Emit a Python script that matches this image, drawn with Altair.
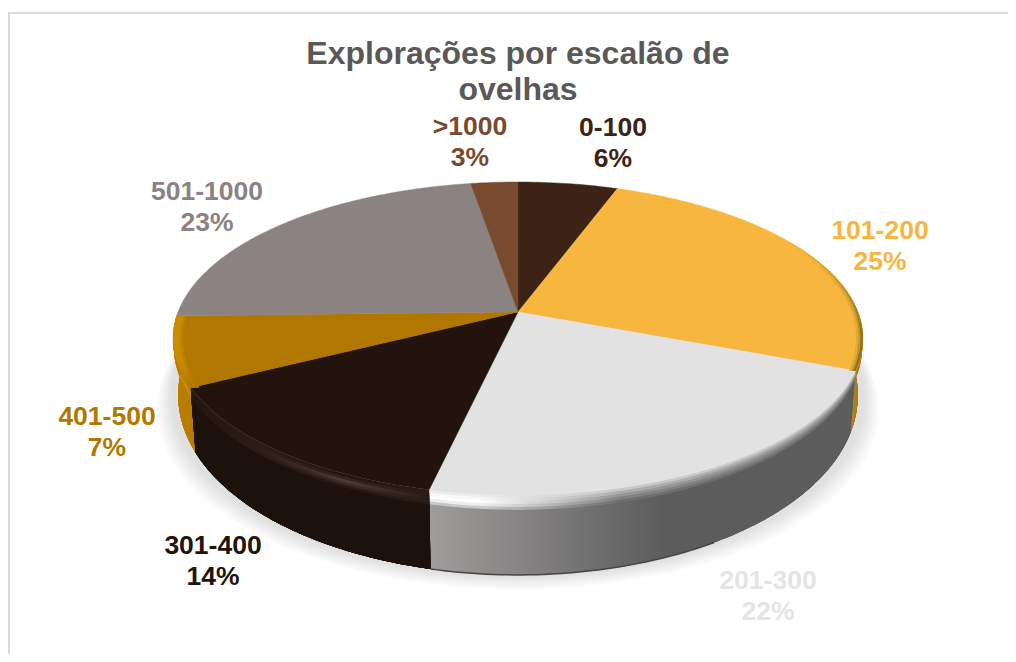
import math
import altair as alt
import pandas as pd

# ---- chart values ----
CATEGORIES = ["0-100", "101-200", "201-300", "301-400", "401-500", "501-1000", ">1000"]
SHARES = [5.5, 25.4, 22.6, 13.9, 7.2, 22.8, 2.6]
PCT_LABELS = ["6%", "25%", "22%", "14%", "7%", "23%", "3%"]
FACE_COLORS = ["#3D2315", "#F7B63D", "#E2E2E2", "#22130C", "#B27700", "#8B8382", "#784A30"]
TEXT_COLORS = ["#3D2315", "#F7B63D", "#E4E4E4", "#22130C", "#B27700", "#8B8382", "#784A30"]
LABEL_X = [613, 880, 768, 213, 107, 207, 470]
LABEL_Y = [128, 231, 581, 546, 417, 192, 127]
TITLE_LINES = ["Explorações por escalão de", "ovelhas"]

W, H = 1000, 646
OFF = 8  # page margin
CX, CY = 518 - OFF, 312 - OFF
KX, KY, PERSP = 340.0, 152.0, 0.169


def top(t, s=1.0):
    u, v = math.sin(t), math.cos(t)
    d = 1 + PERSP * v
    return CX + s * KX * u / d, CY - KY * v / d, v


def depth(v):
    return 52 - 28 * v


def bevel(v):
    return 7 + 8 * max(0.0, -v)


def down(t, amount_fn):
    x, y, v = top(t)
    full = depth(v)
    a = amount_fn(v)
    return CX + (x - CX) * (1 - 0.015 * a / full), y + a


def angles(a, b, step=1.0):
    n = max(2, int(abs(b - a) / step) + 1)
    return [math.radians(a + (b - a) * i / (n - 1)) for i in range(n)]


def feature(coords, kind="Polygon"):
    if kind == "Polygon":
        coords = [coords + [coords[0]]]
    return {"type": "Feature", "properties": {}, "geometry": {"type": kind, "coordinates": coords}}


PROJ = alt.Projection(type="identity", scale=1, translate=[0, 0])


def geo(f, **mark):
    return (
        alt.Chart(alt.Data(values=[f], format=alt.DataFormat(type="json")))
        .mark_geoshape(**mark)
        .project(**PROJ.to_dict())
    )


def grad(stops, vertical=False):
    return alt.Gradient(
        gradient="linear", x1=0, x2=0 if vertical else 1, y1=0, y2=1 if vertical else 0,
        stops=[alt.GradientStop(offset=o, color=c) for o, c in stops],
    )


# cumulative angles from the shares
edges = [0.0]
for s in SHARES:
    edges.append(edges[-1] + s * 3.6)

layers = []

# frame of the chart area
layers.append(geo(feature([[1, H + 4], [1, 5], [W + 4, 5]], "LineString"),
                  filled=False, stroke="#D9D9D9", strokeWidth=2))

# soft shadow under the pie
for k in range(8):
    e = 16 - 2 * k
    pts = []
    for t in angles(0, 360, 3):
        x, y, v = top(t)
        pts.append([CX + (x - CX) * (1 + e / 345), y + depth(v) + e * 0.9])
    layers.append(geo(feature(pts), fill="#808080", fillOpacity=0.035, stroke="transparent"))


def wall_stack(a, b, strips, wall_fill):
    fs = [0, 0.2, 0.4, 0.6, 0.8, 1.0]
    ts = angles(a, b)
    bottom = [down(t, depth) for t in ts][::-1]
    for f, fill in zip(fs, strips):
        upper = [down(t, lambda v: f * bevel(v)) for t in ts]
        layers.append(geo(feature([list(p) for p in upper + bottom]), fill=fill, stroke="transparent"))
    upper = [down(t, bevel) for t in ts]
    layers.append(geo(feature([list(p) for p in upper + bottom]), fill=wall_fill, stroke="transparent"))


# yellow slice, right rim
wall_stack(70, edges[2],
           ["#F0B038", "#D8A030", "#B88A28", "#9A7420", "#8A681C", "#8A681C"],
           grad([(0, "#C8921E"), (1, "#A87C1A")]))
# orange slice, left rim
wall_stack(edges[4], edges[5],
           ["#B87C04", "#C08200", "#CC8C00", "#CC8C00", "#C58500", "#BC8000"],
           "#B87C00")
# grey slice
L = ["#ECECEC", "#F8F8F8", "#FFFFFF", "#EFEFEF", "#C9C9C9", "#A2A2A2"]
R = ["#C8C8C8", "#ACACAC", "#949494", "#808080", "#6E6E6E", "#606060"]
wall_stack(edges[2], edges[3],
           [grad([(0, l), (0.12, l), (0.45, r), (1, r)]) for l, r in zip(L, R)],
           grad([(0, "#A09C9C"), (0.55, "#5C5C5C"), (1, "#5C5C5C")]))
# dark slice
C = ["#24150E", "#33251E", "#4A3D36", "#3A2C25", "#261810", "#1C110B"]
wall_stack(edges[3], edges[4],
           [grad([(0, "#24150E"), (0.25, "#2A1B14"), (0.65, c), (1, "#2A1B14")]) for c in C],
           "#1C110B")
# dark lower edge of the grey wall
layers.append(geo(feature([list(down(t, depth)) for t in angles(edges[3], 150)], "LineString"),
                  filled=False, stroke="#454545", strokeWidth=1.5))

# top faces
for i, col in enumerate(FACE_COLORS):
    pts = [[CX, CY]] + [list(top(t)[:2]) for t in angles(edges[i], edges[i + 1])]
    layers.append(geo(feature(pts), fill=col, stroke=col, strokeWidth=0.4))


def rim_band(a, b, s_inner, fill):
    ts = angles(a, b)
    outer = [list(top(t)[:2]) for t in ts]
    inner = [list(top(t, s_inner)[:2]) for t in ts][::-1]
    layers.append(geo(feature(outer + inner), fill=fill, stroke="transparent"))


# darkening just inside the yellow rim
for s_in, c in [(0.98, "#E2A935"), (0.987, "#C0962B"), (0.993, "#8F701F")]:
    rim_band(60, edges[2], s_in, grad([(0, FACE_COLORS[1]), (0.7, c), (1, c)], vertical=True))
# lighter band just inside the orange rim
for s_in, c in [(0.972, "#BF8100"), (0.98, "#CC8C00")]:
    rim_band(edges[4], edges[5], s_in, grad([(0, c), (0.6, c), (1, FACE_COLORS[4])], vertical=True))

# labels
rows = []
for name, pct, x, y, col in zip(CATEGORIES, PCT_LABELS, LABEL_X, LABEL_Y, TEXT_COLORS):
    rows.append({"txt": name, "px": x - OFF, "py": y - OFF, "col": col})
    rows.append({"txt": pct, "px": x - OFF, "py": y + 31 - OFF, "col": col})
labels = (
    alt.Chart(pd.DataFrame(rows))
    .mark_text(font="Liberation Sans", fontWeight="bold", fontSize=26.5)
    .encode(
        x=alt.X("px:Q", scale=None, axis=None),
        y=alt.Y("py:Q", scale=None, axis=None),
        text="txt:N",
        color=alt.Color("col:N", scale=None, legend=None),
    )
)
title_df = pd.DataFrame({"txt": TITLE_LINES, "px": [518 - OFF] * 2, "py": [54 - OFF, 90 - OFF]})
title = (
    alt.Chart(title_df)
    .mark_text(font="Liberation Sans", fontWeight="bold", fontSize=32, color="#595959")
    .encode(
        x=alt.X("px:Q", scale=None, axis=None),
        y=alt.Y("py:Q", scale=None, axis=None),
        text="txt:N",
    )
)

chart = (
    alt.layer(*layers, labels, title)
    .resolve_scale(color="independent")
    .properties(width=W, height=H, padding=0)
    .configure_view(stroke=None)
)
chart.save("out.html", embed_options={"renderer": "svg", "actions": False})
